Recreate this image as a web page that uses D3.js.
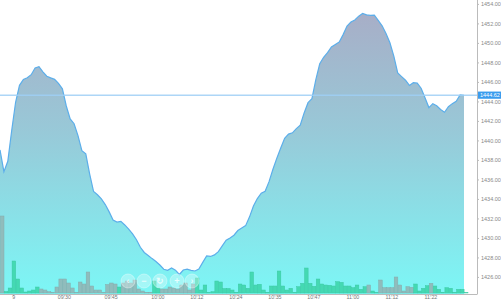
<!doctype html>
<html>
<head>
<meta charset="utf-8">
<style>
  body { margin: 0; background: #fff; }
  svg { display: block; font-family: "Liberation Sans", Arial, sans-serif; }
</style>
</head>
<body>
<script src="https://d3js.org/d3.v7.min.js"></script>
<script>

  // price per minute (intraday)
  var prices = [1439.02,1436.79,1437.86,1441.02,1443.91,1445.65,1446.26,1446.42,1446.74,1447.43,
    1447.57,1447.04,1446.58,1446.41,1446.26,1445.85,1445.29,1443.53,1442.2,1441.71,
    1440.49,1438.95,1438.63,1436.55,1434.76,1434.43,1434.01,1433.42,1432.67,1431.84,
    1431.62,1431.70,1431.33,1430.91,1430.42,1429.82,1429.04,1428.51,1428.2,1427.88,
    1427.58,1427.22,1426.79,1426.68,1426.91,1426.69,1426.25,1426.71,1426.79,1426.67,
    1426.61,1426.81,1427.49,1428.15,1428.1,1428.26,1428.59,1429.18,1429.76,1430.0,
    1430.28,1430.76,1431.03,1431.26,1432.16,1433.28,1434.04,1434.59,1434.78,1435.77,
    1437.04,1438.18,1439.22,1440.22,1440.65,1440.78,1441.21,1441.57,1442.82,1443.87,
    1444.28,1446.23,1447.86,1448.53,1449.0,1449.58,1449.84,1450.08,1450.85,1451.73,
    1452.14,1452.35,1452.74,1453.02,1452.88,1452.82,1452.84,1452.31,1451.75,1450.97,
    1450.02,1448.65,1446.92,1446.54,1446.17,1445.64,1445.92,1445.87,1445.35,1444.38,
    1443.37,1443.77,1443.56,1443.17,1442.89,1443.45,1443.77,1444.02,1444.66,1444.62];

  // volume per minute
  var volumes = [770,15,50,320,140,50,10,20,30,60,
    40,30,13,5,60,140,140,100,50,5,
    110,90,210,70,30,30,5,85,100,90,
    60,100,120,100,130,40,20,7,7,120,
    50,40,40,60,50,40,80,100,30,90,
    150,30,80,5,13,120,110,45,45,30,
    7,90,80,47,210,80,87,30,7,70,
    70,220,70,30,47,7,63,97,250,97,
    67,140,90,80,77,70,113,107,70,70,
    53,80,37,63,80,20,5,130,53,53,
    53,160,80,20,63,57,90,20,47,73,
    97,70,37,7,53,47,7,37,37,5];

  // u = up bar (green), d = down bar (grey)
  var dirs = "duuuuuuuuu" + "dddddddddd" + "dddddddddd" + "uddddddddu" + "uddddddddd" +
             "uuuuuuuuuu" + "uuuuuuuuuu" + "uuuuuuuuuu" + "uuuuuuuuuu" + "uuuuduuddd" +
             "dddddduuuu" + "duuuuuuuuu";

  var tickIdx = [3,16,28,40,50,60,70,80,90,100,110];
  var tickLabels = ["9","09:30","09:45","10:00","10:12","10:24","10:35","10:47","11:00","11:12","11:22"];
  var yTicks = [1426,1428,1430,1432,1434,1436,1438,1440,1442,1444,1446,1448,1450,1452,1454];
  var lastPrice = 1444.62;

  var width = 501, height = 300;
  var plotRight = 477, plotBottom = 294;
  var n = prices.length;

  var svg = d3.select("body").append("svg").attr("width", width).attr("height", height);

  var xScale = d3.scaleLinear().domain([0, n - 1]).range([0, 464]);
  var step = xScale(1) - xScale(0);
  var yScale = d3.scaleLinear().domain([1424.25, 1454.4]).range([plotBottom, 0]);
  var vScale = d3.scaleLinear().domain([0, 770]).range([293, 216]);

  //gradient
  var defs = svg.append("defs");
  var grad = defs.append("linearGradient").attr("id", "areaGrad")
    .attr("x1", 0).attr("y1", 0).attr("x2", 0).attr("y2", plotBottom)
    .attr("gradientUnits", "userSpaceOnUse");
  grad.append("stop").attr("offset", "0%").attr("stop-color", "#a9abc5");
  grad.append("stop").attr("offset", "45%").attr("stop-color", "#98c9d8");
  grad.append("stop").attr("offset", "100%").attr("stop-color", "#7cf7f6");

  var area = d3.area()
    .x(function(d, i){ return xScale(i); })
    .y0(plotBottom)
    .y1(function(d){ return yScale(d); });
  var line = d3.line()
    .x(function(d, i){ return xScale(i); })
    .y(function(d){ return yScale(d); });

  svg.append("path").attr("d", area(prices)).attr("fill", "url(#areaGrad)");

  //volume bars
  svg.append("g").selectAll("rect")
    .data(volumes).enter().append("rect")
    .attr("x", function(d, i){ return xScale(i) + 0.4; })
    .attr("width", step - 0.3)
    .attr("y", function(d){ return vScale(d); })
    .attr("height", function(d){ return 293 - vScale(d); })
    .attr("fill", function(d, i){ return dirs[i] == "u" ? "#44d9b2" : "#90bcbc"; })
    .attr("stroke", function(d, i){ return dirs[i] == "u" ? "#3cc9a4" : "#84acac"; })
    .attr("stroke-width", 0.5);

  svg.append("path").attr("d", line(prices))
    .attr("fill", "none").attr("stroke", "#5caeea").attr("stroke-width", 1.2);

  //last price line
  svg.append("line")
    .attr("x1", 0).attr("x2", plotRight)
    .attr("y1", yScale(lastPrice)).attr("y2", yScale(lastPrice))
    .attr("stroke", "#9fd0f6").attr("stroke-width", 1.5).attr("opacity", 0.85);

  //axes
  var yAxis = svg.append("g").attr("transform", "translate(" + plotRight + ",0)")
    .call(d3.axisRight(yScale).tickValues(yTicks).tickSize(2).tickFormat(d3.format(".2f")));
  yAxis.select(".domain").attr("stroke", "#bbb").attr("d", "M0.5,0V" + plotBottom);
  yAxis.selectAll(".tick line").attr("stroke", "#bbb");
  yAxis.selectAll(".tick text").attr("x", 4).attr("fill", "#888")
    .style("font-size", "5.5px").style("font-family", "Liberation Sans, Arial, sans-serif");

  var xAxis = svg.append("g").attr("transform", "translate(0," + plotBottom + ")")
    .call(d3.axisBottom(xScale).tickValues(tickIdx).tickSize(2)
      .tickFormat(function(d, i){ return tickLabels[i]; }));
  xAxis.select(".domain").attr("stroke", "#bbb").attr("d", "M0,0.5H" + (plotRight + 0.5));
  xAxis.selectAll(".tick").attr("transform", function(d){ return "translate(" + (xScale(d) + step / 2) + ",0)"; });
  xAxis.selectAll(".tick line").attr("stroke", "#bbb");
  xAxis.selectAll(".tick text").attr("y", 1.3).attr("fill", "#777")
    .style("font-size", "5.3px").style("font-family", "Liberation Sans, Arial, sans-serif");

  //last price label
  var ly = yScale(lastPrice);
  svg.append("rect").attr("x", 478).attr("y", ly - 3.8).attr("width", 23).attr("height", 7.2)
    .attr("fill", "#3a9cee");
  svg.append("text").attr("x", 480).attr("y", ly + 2)
    .attr("fill", "#fff").style("font-size", "5.5px").text(lastPrice.toFixed(2));

  //zoom buttons
  var buttons = ["\u2039", "\u2212", "\u21BB", "+", "\u203A"];
  var bx = [128, 144, 160, 177, 192];
  var bg = svg.append("g");
  bg.selectAll("circle").data(buttons).enter().append("circle")
    .attr("cx", function(d, i){ return bx[i]; }).attr("cy", 281).attr("r", 7)
    .attr("fill", "#ffffff").attr("fill-opacity", 0.3)
    .attr("stroke", "#ffffff").attr("stroke-opacity", 0.35);
  bg.selectAll("text").data(buttons).enter().append("text")
    .attr("x", function(d, i){ return bx[i]; }).attr("y", 284)
    .attr("text-anchor", "middle").attr("fill", "#f4ffff").attr("fill-opacity", 0.85)
    .style("font-size", "9px").style("font-weight", "bold").text(function(d){ return d; });

</script>
</body>
</html>
